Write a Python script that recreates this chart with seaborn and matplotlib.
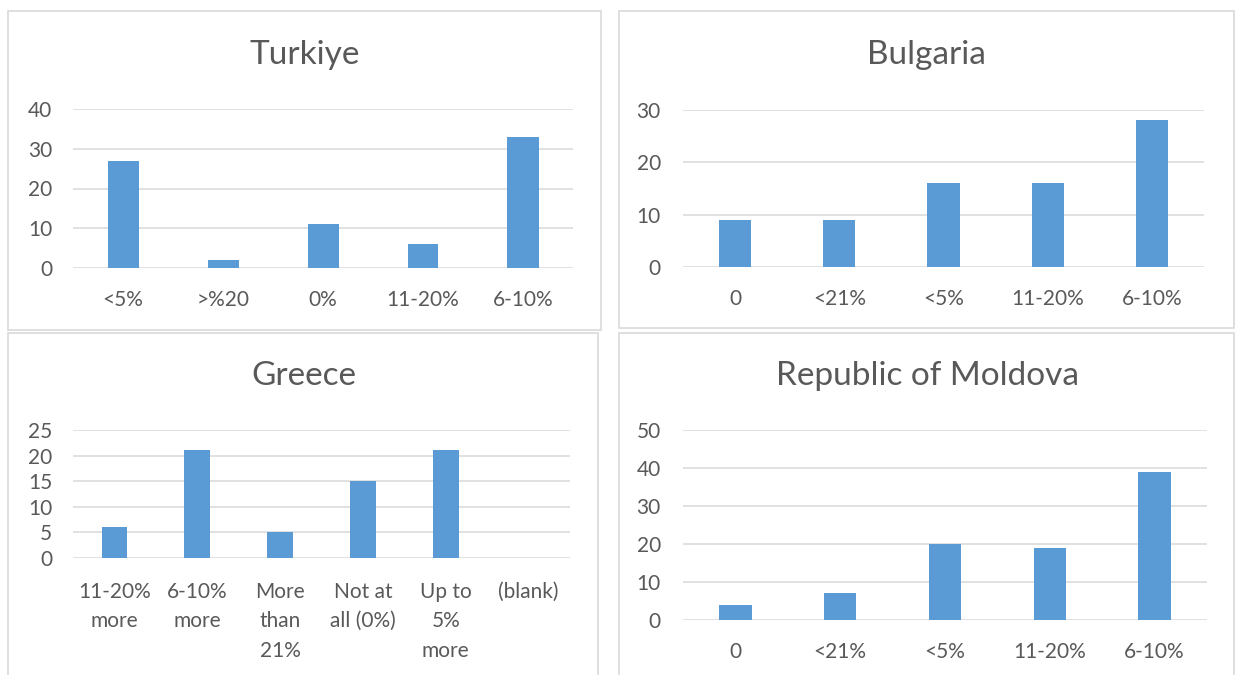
import numpy as np
import pandas as pd
import matplotlib.pyplot as plt
import seaborn as sns
from matplotlib.patches import Rectangle

# data
turkiye_cats = ['<5%', '>%20', '0%', '11-20%', '6-10%']
turkiye_vals = [27, 2, 11, 6, 33]

bulgaria_cats = ['0', '<21%', '<5%', '11-20%', '6-10%']
bulgaria_vals = [9, 9, 16, 16, 28]

greece_cats = ['11-20%\nmore', '6-10%\nmore', 'More\nthan\n21%', 'Not at\nall (0%)', 'Up to\n5%\nmore', '(blank)']
greece_vals = [6, 21, 5, 15, 21, 0]

moldova_cats = ['0', '<21%', '<5%', '11-20%', '6-10%']
moldova_vals = [4, 7, 20, 19, 39]

sns.set_style('white')
plt.rcParams['font.family'] = ['Lato', 'DejaVu Sans']

BLUE = '#5B9BD5'
GRID = '#D9D9D9'
TEXT = '#595959'
W, H = 1240, 675

fig = plt.figure(figsize=(12.4, 6.75), dpi=100)


def px_box(x0, y0, x1, y1):
    # pixel box (top-left origin) -> figure fraction rect
    return [x0 / W, 1 - y1 / H, (x1 - x0) / W, (y1 - y0) / H]


def panel(cats, vals, title, frame, axbox, title_xy, ymax, ystep, xpad, ypad):
    fx0, fy0, fx1, fy1 = frame
    fig.patches.append(Rectangle((fx0 / W, 1 - fy1 / H), (fx1 - fx0) / W, (fy1 - fy0) / H,
                                 transform=fig.transFigure, fill=False,
                                 edgecolor=GRID, linewidth=1.2, zorder=0))
    ax = fig.add_axes(px_box(*axbox))
    df = pd.DataFrame({'cat': cats, 'val': vals})
    sns.barplot(data=df, x='cat', y='val', ax=ax, color=BLUE, saturation=1,
                width=0.31, edgecolor='none', zorder=3)
    ax.set_xlim(-0.5, len(cats) - 0.5)
    ax.set_ylim(0, ymax)
    ax.set_yticks(np.arange(0, ymax + 1, ystep))
    ax.yaxis.grid(True, color=GRID, linewidth=1.1, zorder=0)
    ax.set_axisbelow(True)
    for s in ax.spines.values():
        s.set_visible(False)
    ax.set_xlabel('')
    ax.set_ylabel('')
    ax.tick_params(axis='both', length=0, labelsize=15, labelcolor=TEXT)
    ax.tick_params(axis='x', pad=xpad)
    ax.tick_params(axis='y', pad=ypad)
    for lbl in ax.get_xticklabels():
        lbl.set_linespacing(1.6)
        lbl.set_verticalalignment('top')
    fig.text(title_xy[0] / W, 1 - title_xy[1] / H, title, ha='center', va='center',
             fontsize=24, color=TEXT)
    return ax


panel(turkiye_cats, turkiye_vals, 'Turkiye', (8, 11, 601, 330), (73, 109, 573, 268),
      (305, 55), 40, 10, 16, 15)
panel(bulgaria_cats, bulgaria_vals, 'Bulgaria', (619, 11, 1234, 328), (683, 110, 1204, 267),
      (926, 55), 30, 10, 16, 16)
panel(greece_cats, greece_vals, 'Greece', (8, 333, 598, 676), (73, 430, 570, 558),
      (304, 376), 25, 5, 17, 15)
panel(moldova_cats, moldova_vals, 'Republic of Moldova', (619, 333, 1234, 676), (683, 430, 1207, 620),
      (928, 376), 50, 10, 16, 16)

fig.savefig('out.png', dpi=100, facecolor='white')
